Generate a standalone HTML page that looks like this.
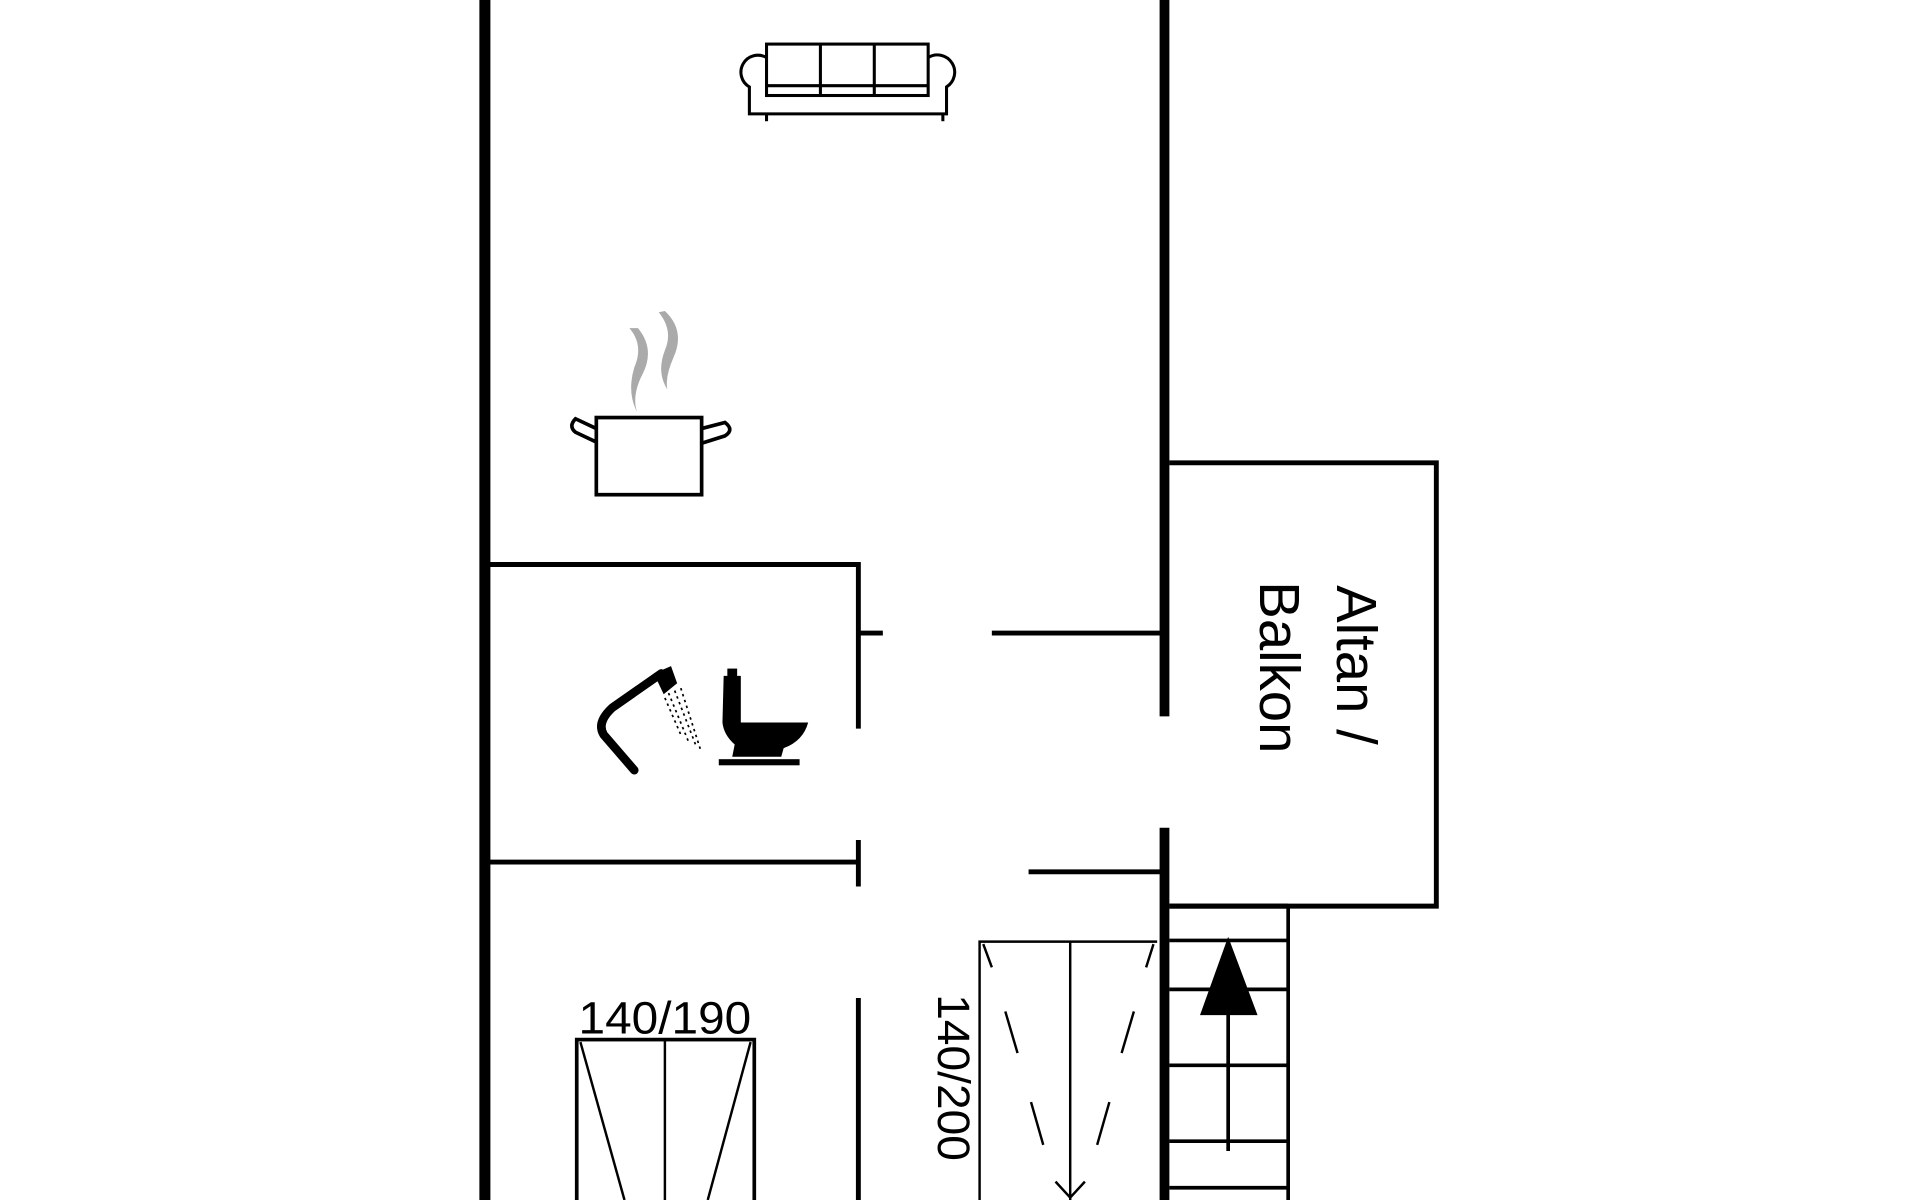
<!DOCTYPE html>
<html><head><meta charset="utf-8"><style>html,body{margin:0;padding:0;background:#fff}svg{display:block}</style></head>
<body>
<svg width="1920" height="1200" viewBox="0 0 1568 980" xmlns="http://www.w3.org/2000/svg" font-family="Liberation Sans, sans-serif">
<rect width="1568" height="980" fill="#fff"/>
<g stroke="#000" fill="none" stroke-linecap="butt">
<line x1="396" y1="0" x2="396" y2="980" stroke-width="9"/>
<line x1="951" y1="0" x2="951" y2="585" stroke-width="8"/>
<line x1="951" y1="676" x2="951" y2="980" stroke-width="8"/>
<polyline points="955,378 1173,378 1173,740 955,740" stroke-width="4"/>
<polyline points="400,461 701,461 701,595" stroke-width="4"/>
<line x1="701" y1="517" x2="721" y2="517" stroke-width="4"/>
<line x1="810" y1="517" x2="948" y2="517" stroke-width="4"/>
<line x1="400" y1="704" x2="701" y2="704" stroke-width="4"/>
<line x1="701" y1="686" x2="701" y2="724" stroke-width="4"/>
<line x1="840" y1="712" x2="948" y2="712" stroke-width="4"/>
<line x1="701" y1="815" x2="701" y2="980" stroke-width="4"/>
<rect x="471" y="849" width="145" height="140" stroke-width="3"/>
<line x1="543" y1="849" x2="543" y2="980" stroke-width="2"/>
<line x1="474" y1="851" x2="510" y2="980" stroke-width="2"/>
<line x1="613" y1="851" x2="578" y2="980" stroke-width="2"/>
<polyline points="800,990 800,769 945,769" stroke-width="2"/>
<line x1="874" y1="769" x2="874" y2="980" stroke-width="2"/>
<g stroke-width="2">
<line x1="803" y1="771" x2="810" y2="790"/><line x1="942" y1="771" x2="936" y2="790"/>
<line x1="821" y1="826" x2="831" y2="860"/><line x1="926" y1="826" x2="916" y2="860"/>
<line x1="842" y1="900" x2="852" y2="935"/><line x1="906" y1="900" x2="896" y2="935"/>
<polyline points="862,965 874,978 886,965"/>
</g>
<line x1="955" y1="740" x2="1052" y2="740" stroke-width="4"/>
<line x1="1052" y1="740" x2="1052" y2="980" stroke-width="3"/>
<g stroke-width="3">
<line x1="955" y1="768" x2="1052" y2="768"/>
<line x1="955" y1="808" x2="1052" y2="808"/>
<line x1="955" y1="870" x2="1052" y2="870"/>
<line x1="955" y1="932" x2="1052" y2="932"/>
<line x1="955" y1="970" x2="1052" y2="970"/>
<line x1="1003" y1="820" x2="1003" y2="940"/>
</g>
</g>
<polygon points="1003,765 980,829 1027,829" fill="#000"/>
<g stroke="#000" fill="none" stroke-width="2.5">
<rect x="626" y="36" width="132" height="42"/>
<line x1="670" y1="36" x2="670" y2="78"/><line x1="714" y1="36" x2="714" y2="78"/>
<line x1="626" y1="70" x2="758" y2="70"/>
<path d="M626,47 A12,12 0 1 0 612,71 L612,93 L773,93 L773,71 A12,12 0 1 0 758,47"/>
<line x1="626" y1="93" x2="626" y2="99"/><line x1="770" y1="93" x2="770" y2="99"/>
</g>
<g stroke="#000" fill="none" stroke-width="3">
<rect x="487" y="341" width="86" height="63"/>
<path d="M487,350 L470,342 Q464,348 470,353 L487,361"/>
<path d="M573,350 L592,345 Q600,351 592,356 L573,362"/>
</g>
<path d="M521,268 Q535,285 525,305 Q516,322 520,336 Q512,320 518,300 Q526,282 514,268Z" fill="#aaa"/>
<path d="M543,254 Q560,270 550,292 Q543,308 545,318 Q536,304 543,286 Q550,270 538,255Z" fill="#aaa"/>
<path d="M540,550 L500,578 Q487,590 493,600 L518,629" stroke="#000" stroke-width="7" fill="none" stroke-linecap="round"/>
<path d="M534,550 L548,544 L553,558 L542,567Z" fill="#000"/>
<g stroke="#000" stroke-width="1.4" stroke-dasharray="2,3">
<line x1="546" y1="566" x2="562" y2="605"/><line x1="551" y1="564" x2="568" y2="608"/><line x1="556" y1="562" x2="572" y2="612"/><line x1="543" y1="570" x2="556" y2="600"/>
</g>
<path d="M591,552 L605,552 L605,590 L660,590 Q656,605 640,611 L638,618 L598,618 L600,608 Q591,600 590,590Z" fill="#000"/>
<rect x="594" y="546" width="8" height="8" fill="#000"/>
<rect x="587" y="620" width="66" height="5" fill="#000"/>
<text x="543" y="844" font-size="37" text-anchor="middle" textLength="141" lengthAdjust="spacingAndGlyphs">140/190</text>
<text transform="translate(766,880) rotate(90)" font-size="37" text-anchor="middle" textLength="136" lengthAdjust="spacingAndGlyphs">140/200</text>
<text transform="translate(1092,543) rotate(90)" font-size="46" text-anchor="middle">Altan /</text>
<text transform="translate(1029,545) rotate(90)" font-size="46" text-anchor="middle">Balkon</text>
</svg>
</body></html>
